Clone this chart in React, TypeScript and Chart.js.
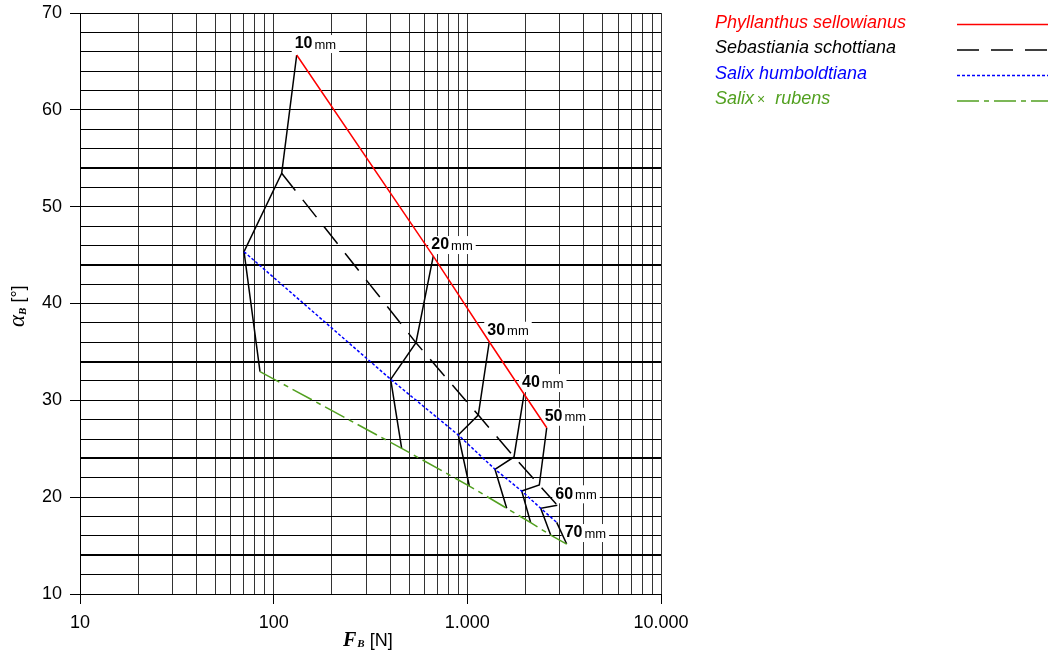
import React, { useEffect, useRef } from "react";
import { Chart, registerables } from "chart.js";

Chart.register(...registerables);

// Diameters of the stems (mm), one per isoline
const diameters = ["10", "20", "30", "40", "50", "60", "70"];

// Species names (legend)
const speciesNames = [
  "Phyllanthus sellowianus",
  "Sebastiania schottiana",
  "Salix humboldtiana",
  "Salix × rubens",
];

// Force F_B [N] and angle alpha_B [°] per diameter (null = not present)
const phyllanthusF = [131.5, 667, 1298, 1962, 2570, null, null];
const phyllanthusA = [65.66, 44.9, 36.05, 30.65, 27.17, null, null];
const sebastianiaF = [110, 543, 1139, 1742, 2353, 2914, null];
const sebastianiaA = [53.45, 35.95, 28.48, 24.15, 21.25, 19.16, null];
const humboldtianaF = [70.3, 402, 898, 1389, 1909, 2393, 2893];
const humboldtianaA = [45.35, 32.17, 26.42, 22.88, 20.63, 18.85, 17.4];
const rubensF = [85.0, 458, 1024, 1597, 2124, 2694, 3258];
const rubensA = [32.96, 25.04, 21.15, 18.85, 17.36, 16.09, 15.16];

// Axis ticks
const xTickValues = [
  10, 20, 30, 40, 50, 60, 70, 80, 90,
  100, 200, 300, 400, 500, 600, 700, 800, 900,
  1000, 2000, 3000, 4000, 5000, 6000, 7000, 8000, 9000,
  10000,
];
const xMajorValues = [10, 100, 1000, 10000];
const xMajorLabels = ["10", "100", "1.000", "10.000"];
const yTickValues = [10, 12, 14, 16, 18, 20, 22, 24, 26, 28, 30, 32, 34, 36, 38, 40, 42, 44, 46, 48, 50, 52, 54, 56, 58, 60, 62, 64, 66, 68, 70];
const yMajorValues = [10, 20, 30, 40, 50, 60, 70];
const yBoldValues = [14, 24, 34, 44, 54];

const speciesColors = ["#ff0000", "#000000", "#0000ff", "#52a020"];
const speciesDashes: number[][] = [[], [22, 12], [3, 2], [22, 5, 5, 5]];

const SANS = '"Liberation Sans", Arial, sans-serif';
const SERIF = '"Liberation Serif", "Times New Roman", serif';

export default function App() {
  const ref = useRef<HTMLCanvasElement>(null);

  useEffect(() => {
    document.body.style.margin = "0";
    const canvas = ref.current!;
    const seriesF = [phyllanthusF, sebastianiaF, humboldtianaF, rubensF];
    const seriesA = [phyllanthusA, sebastianiaA, humboldtianaA, rubensA];

    const speciesDatasets = speciesNames.map((name, s) => ({
      label: name,
      data: seriesF[s]
        .map((f, i) => (f == null ? null : { x: f, y: seriesA[s][i] as number }))
        .filter((p) => p !== null),
      borderColor: speciesColors[s],
      borderWidth: 1.5,
      borderDash: speciesDashes[s],
      showLine: true,
      pointRadius: 0,
      fill: false,
    }));

    const isoDatasets = diameters.map((d, i) => ({
      label: d + " mm",
      data: seriesF
        .map((arr, s) => (arr[i] == null ? null : { x: arr[i] as number, y: seriesA[s][i] as number }))
        .filter((p) => p !== null),
      borderColor: "#000000",
      borderWidth: 1.5,
      showLine: true,
      pointRadius: 0,
      fill: false,
    }));

    const labelPlugin = {
      id: "diamLabels",
      beforeDatasetsDraw(chart: any) {
        const { ctx, scales } = chart;
        diameters.forEach((d, i) => {
          // anchor: the point with largest force for this diameter
          let bx = -Infinity;
          let by = 0;
          seriesF.forEach((arr, s) => {
            const f = arr[i];
            if (f != null && f > bx) {
              bx = f;
              by = seriesA[s][i] as number;
            }
          });
          const px = scales.x.getPixelForValue(bx);
          const py = scales.y.getPixelForValue(by);
          const cy = py - 12;
          ctx.save();
          ctx.font = `bold 16px ${SANS}`;
          const w1 = ctx.measureText(d).width;
          ctx.font = `13px ${SANS}`;
          const w2 = ctx.measureText("mm").width;
          const tx = px - 2;
          ctx.fillStyle = "#ffffff";
          ctx.fillRect(tx - 3, cy - 8, w1 + 2 + w2 + 6, 18);
          ctx.fillStyle = "#000000";
          ctx.textBaseline = "middle";
          ctx.textAlign = "left";
          ctx.font = `bold 16px ${SANS}`;
          ctx.fillText(d, tx, cy + 1);
          ctx.font = `13px ${SANS}`;
          ctx.fillText("mm", tx + w1 + 2, cy + 2);
          ctx.restore();
        });
      },
    };

    const decorPlugin = {
      id: "decor",
      afterDraw(chart: any) {
        const { ctx } = chart;
        ctx.save();
        // Legend
        const ys = [22.5, 48, 73.5, 99];
        ctx.textBaseline = "middle";
        ctx.textAlign = "left";
        speciesNames.forEach((name, s) => {
          ctx.fillStyle = speciesColors[s];
          const y = ys[s];
          if (name.includes("×")) {
            const parts = name.split("×");
            ctx.font = `italic 18px ${SANS}`;
            const p1 = parts[0].trim();
            ctx.fillText(p1, 715, y);
            let x = 715 + ctx.measureText(p1).width + 3;
            ctx.font = `14px ${SANS}`;
            ctx.fillText("×", x, y + 1);
            x += ctx.measureText("×").width + 10;
            ctx.font = `italic 18px ${SANS}`;
            ctx.fillText(parts[1].trim(), x, y);
          } else {
            ctx.font = `italic 18px ${SANS}`;
            ctx.fillText(name, 715, y);
          }
          ctx.strokeStyle = speciesColors[s];
          ctx.lineWidth = 1.5;
          ctx.setLineDash(speciesDashes[s]);
          ctx.beginPath();
          ctx.moveTo(957, y + 2);
          ctx.lineTo(1048, y + 2);
          ctx.stroke();
          ctx.setLineDash([]);
        });

        // X axis title: F_B [N]
        ctx.fillStyle = "#000";
        ctx.textBaseline = "alphabetic";
        let x = 343;
        const by = 646;
        ctx.font = `bold italic 20px ${SERIF}`;
        ctx.fillText("F", x, by);
        x += ctx.measureText("F").width + 1;
        ctx.font = `bold italic 11px ${SERIF}`;
        ctx.fillText("B", x, by + 1);
        x += ctx.measureText("B").width;
        ctx.font = `18px ${SANS}`;
        ctx.fillText(" [N]", x, by);

        // Y axis title: alpha_B [°]
        ctx.translate(24, 327);
        ctx.rotate(-Math.PI / 2);
        let yx = 0;
        ctx.font = `italic 23px ${SERIF}`;
        ctx.fillText("α", yx, 0);
        yx += ctx.measureText("α").width;
        ctx.font = `bold italic 11px ${SERIF}`;
        ctx.fillText("B", yx, 2);
        yx += ctx.measureText("B").width;
        ctx.font = `18px ${SANS}`;
        ctx.fillText(" [°]", yx, 0);
        ctx.restore();
      },
    };

    const chart = new Chart(canvas, {
      type: "scatter",
      data: { datasets: [...speciesDatasets, ...isoDatasets] as any },
      options: {
        responsive: false,
        devicePixelRatio: 1,
        animation: false,
        layout: { padding: { left: 0, top: 13, right: 387, bottom: 0 } },
        plugins: { legend: { display: false }, tooltip: { enabled: false } },
        scales: {
          x: {
            type: "logarithmic",
            min: 10,
            max: 10000,
            afterBuildTicks: (scale: any) => {
              scale.ticks = xTickValues.map((v) => ({ value: v }));
            },
            afterFit: (scale: any) => {
              scale.height = 61;
              scale.paddingLeft = 0;
              scale.paddingRight = 0;
            },
            ticks: {
              autoSkip: false,
              maxRotation: 0,
              padding: 8,
              color: "#000",
              font: { family: SANS, size: 18 },
              callback: (v: any) => {
                const idx = xMajorValues.indexOf(Number(v));
                return idx >= 0 ? xMajorLabels[idx] : "";
              },
            },
            grid: {
              color: "#333333",
              lineWidth: 1,
              tickLength: 10,
              tickColor: (c: any) =>
                c.tick && xMajorValues.includes(c.tick.value) ? "#000" : "rgba(0,0,0,0)",
            },
            border: { display: true, color: "#000", width: 1 },
          },
          y: {
            type: "linear",
            min: 10,
            max: 70,
            afterBuildTicks: (scale: any) => {
              scale.ticks = yTickValues.map((v) => ({ value: v }));
            },
            afterFit: (scale: any) => {
              scale.width = 80;
              scale.paddingTop = 0;
              scale.paddingBottom = 0;
            },
            ticks: {
              autoSkip: false,
              padding: 8,
              color: "#000",
              font: { family: SANS, size: 18 },
              callback: (v: any) => (yMajorValues.includes(Number(v)) ? String(v) : ""),
            },
            grid: {
              color: "#000000",
              lineWidth: (c: any) => (c.tick && yBoldValues.includes(c.tick.value) ? 2 : 1),
              tickLength: 10,
              tickColor: (c: any) =>
                c.tick && yMajorValues.includes(c.tick.value) ? "#000" : "rgba(0,0,0,0)",
            },
            border: { display: true, color: "#000", width: 1 },
          },
        },
      },
      plugins: [labelPlugin, decorPlugin],
    });

    return () => chart.destroy();
  }, []);

  return (
    <div style={{ width: 1048, height: 655 }}>
      <canvas ref={ref} width={1048} height={655} />
    </div>
  );
}
